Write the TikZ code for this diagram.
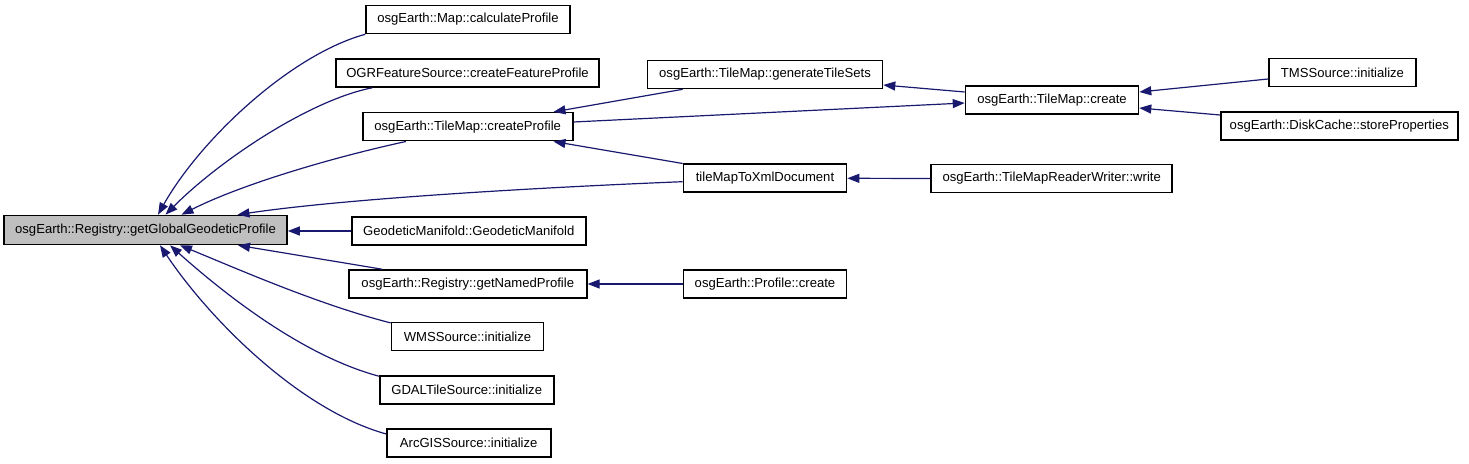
\documentclass[tikz,border=0pt]{standalone}
\usepackage{fontspec}
\setmainfont{Liberation Sans}
\usetikzlibrary{arrows.meta}
\definecolor{edgeblue}{HTML}{191970}
\definecolor{maingray}{HTML}{BFBFBF}
\begin{document}
\begin{tikzpicture}[x=0.5pt,y=-0.5pt,
  fn/.style={draw=black, line width=0.8pt, fill=white, rectangle, inner sep=0pt,
             minimum height=14pt, font=\fontsize{6.55}{8}\selectfont},
  ed/.style={draw=edgeblue, line width=0.6pt, -{Triangle[length=6pt,width=4.5pt]}, fill=none}]
\useasboundingbox (0,0) rectangle (1469,464);
% nodes
\node[fn, fill=maingray, minimum width=141.5pt, minimum height=14.5pt] (main) at (145.5,230) {osgEarth::Registry::getGlobalGeodeticProfile};
\node[fn, minimum width=102pt] (calc) at (468,19.5) {osgEarth::Map::calculateProfile};
\node[fn, minimum width=131.5pt] (ogr) at (467.5,73) {OGRFeatureSource::createFeatureProfile};
\node[fn, minimum width=105pt] (cp) at (467.7,126.7) {osgEarth::TileMap::createProfile};
\node[fn, minimum width=117pt] (geo) at (468.8,231) {GeodeticManifold::GeodeticManifold};
\node[fn, minimum width=119pt] (named) at (467.8,284) {osgEarth::Registry::getNamedProfile};
\node[fn, minimum width=76pt] (wms) at (467.5,336.7) {WMSSource::initialize};
\node[fn, minimum width=87pt] (gdal) at (466.7,390) {GDALTileSource::initialize};
\node[fn, minimum width=82pt] (arc) at (468.7,443) {ArcGISSource::initialize};
\node[fn, minimum width=117.5pt] (gts) at (765,74.5) {osgEarth::TileMap::generateTileSets};
\node[fn, minimum width=81.5pt] (xml) at (765,178.3) {tileMapToXmlDocument};
\node[fn, minimum width=81.5pt] (pc) at (765,284) {osgEarth::Profile::create};
\node[fn, minimum width=86.5pt] (tmc) at (1052,100) {osgEarth::TileMap::create};
\node[fn, minimum width=120.5pt] (tmrw) at (1051.7,178.5) {osgEarth::TileMapReaderWriter::write};
\node[fn, minimum width=73.5pt] (tms) at (1342.5,72.5) {TMSSource::initialize};
\node[fn, minimum width=118.5pt] (dc) at (1339.3,126) {osgEarth::DiskCache::storeProperties};
% edges into main
\draw[ed] (calc.south west) .. controls (290,55) and (200,140) .. ([xshift=6.25pt]main.north);
\draw[ed] ([xshift=18.5pt]ogr.south west) .. controls (310,100) and (220,160) .. ([xshift=10pt]main.north);
\draw[ed] ([xshift=22pt]cp.south west) .. controls (330,158) and (240,185) .. ([xshift=18pt]main.north);
\draw[ed] ([yshift=-1.7pt]xml.west) .. controls (550,187) and (350,198) .. ([xshift=46pt]main.north);
\draw[ed] (geo.west) -- (geo.west -| main.east);
\draw[ed] ([xshift=17pt]named.north west) -- ([xshift=46.25pt]main.south);
\draw[ed] ([yshift=-0.5pt]wms.north west) .. controls (320,305) and (240,270) .. ([xshift=17.25pt]main.south);
\draw[ed] ([yshift=-0.5pt]gdal.north west) .. controls (300,355) and (220,290) .. ([xshift=12.25pt]main.south);
\draw[ed] ([yshift=-2.85pt]arc.north west) .. controls (300,410) and (210,320) .. ([xshift=7.25pt]main.south);
% other edges
\draw[ed] ([xshift=18pt]gts.south west) -- ([xshift=-10pt]cp.north east);
\draw[ed] (xml.north west) -- ([xshift=-10pt]cp.south east);
\draw[ed] ([yshift=2.35pt]cp.east) -- ([yshift=-1.5pt]tmc.west);
\draw[ed] ([yshift=4pt]tmc.west) -- ([yshift=-5.25pt]gts.east);
\draw[ed] ([yshift=-3.25pt]tms.west) -- ([yshift=4pt]tmc.east);
\draw[ed] ([yshift=5.5pt]dc.west) -- ([yshift=-4pt]tmc.east);
\draw[ed] (tmrw.west) -- (xml.east);
\draw[ed] (pc.west) -- (named.east);
\end{tikzpicture}
\end{document}
